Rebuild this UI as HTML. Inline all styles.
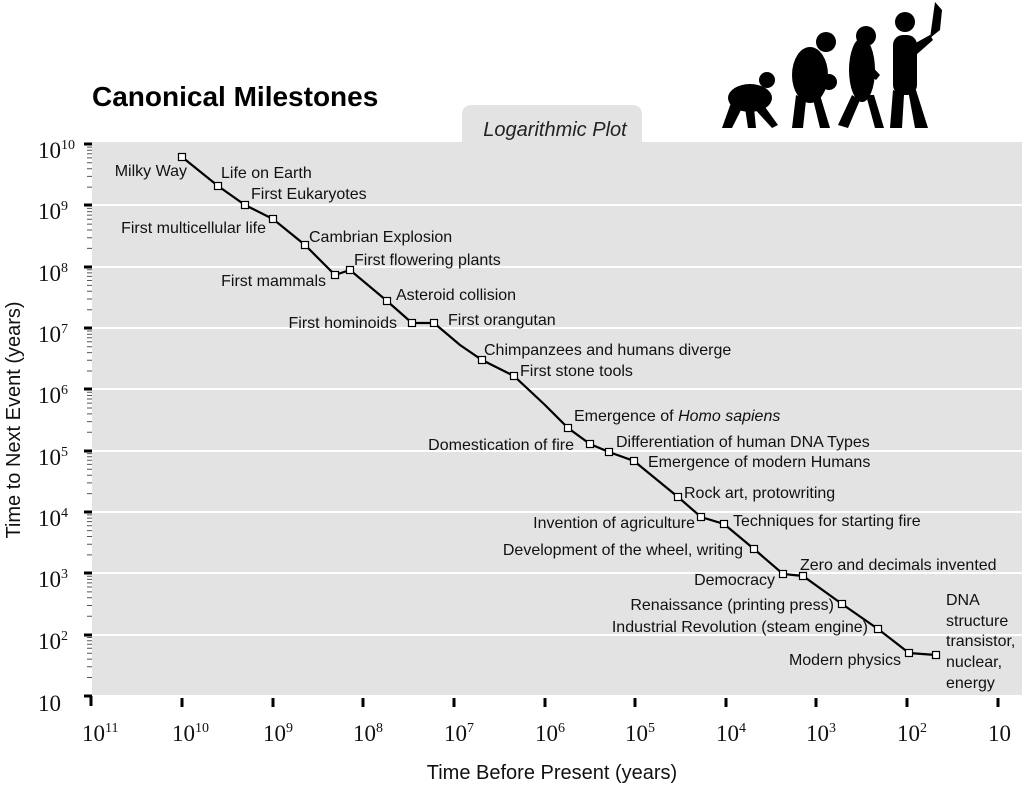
<!DOCTYPE html>
<html><head><meta charset="utf-8"><style>
body{margin:0;background:#fff;}
svg{display:block;font-family:"Liberation Sans",sans-serif;}
.l{font-size:16px;fill:#111;}
.r{text-anchor:end;}
.t{font-family:"Liberation Serif",serif;font-size:23px;fill:#111;}
.s{font-family:"Liberation Serif",serif;font-size:14px;fill:#111;}
</style></head><body>
<svg width="1024" height="787" viewBox="0 0 1024 787">
<rect x="92" y="142" width="930" height="553" fill="#e3e3e3"/>
<path d="M462,142 V115 Q462,105 472,105 H632 Q642,105 642,115 V142Z" fill="#e3e3e3"/>
<text x="555" y="136" text-anchor="middle" font-style="italic" font-size="20" fill="#222">Logarithmic Plot</text>
<text x="92" y="106" font-size="28" font-weight="bold" fill="#000">Canonical Milestones</text>
<g stroke="#fff" stroke-width="2">
<line x1="92" x2="1022" y1="205" y2="205"/><line x1="92" x2="1022" y1="267" y2="267"/>
<line x1="92" x2="1022" y1="328" y2="328"/><line x1="92" x2="1022" y1="389" y2="389"/>
<line x1="92" x2="1022" y1="451" y2="451"/><line x1="92" x2="1022" y1="512" y2="512"/>
<line x1="92" x2="1022" y1="573" y2="573"/><line x1="92" x2="1022" y1="635" y2="635"/>
</g>
<g stroke="#000" stroke-width="3">
<line x1="84" x2="92" y1="144" y2="144"/><line x1="84" x2="92" y1="205" y2="205"/><line x1="84" x2="92" y1="267" y2="267"/><line x1="84" x2="92" y1="328" y2="328"/><line x1="84" x2="92" y1="389" y2="389"/><line x1="84" x2="92" y1="451" y2="451"/><line x1="84" x2="92" y1="512" y2="512"/><line x1="84" x2="92" y1="573" y2="573"/><line x1="84" x2="92" y1="635" y2="635"/><line x1="84" x2="92" y1="696" y2="696"/>
<line x1="91" x2="91" y1="696" y2="706"/><line x1="182" x2="182" y1="698" y2="707"/><line x1="273" x2="273" y1="698" y2="707"/><line x1="363" x2="363" y1="698" y2="707"/><line x1="454" x2="454" y1="698" y2="707"/><line x1="545" x2="545" y1="698" y2="707"/><line x1="635" x2="635" y1="698" y2="707"/><line x1="726" x2="726" y1="698" y2="707"/><line x1="816" x2="816" y1="698" y2="707"/><line x1="907" x2="907" y1="698" y2="707"/><line x1="998" x2="998" y1="698" y2="707"/>
</g>
<path stroke="#555" stroke-width="1" fill="none" d="
M87,677.5H92M87,666.8H92M87,659.1H92M87,653.2H92M87,648.3H92M87,644.2H92M87,640.7H92M87,637.5H92
M87,616.2H92M87,605.5H92M87,597.8H92M87,591.9H92M87,587.0H92M87,582.9H92M87,579.4H92M87,576.2H92
M87,554.9H92M87,544.2H92M87,536.5H92M87,530.6H92M87,525.7H92M87,521.6H92M87,518.1H92M87,514.9H92
M87,493.6H92M87,482.9H92M87,475.2H92M87,469.3H92M87,464.4H92M87,460.3H92M87,456.8H92M87,453.6H92
M87,432.3H92M87,421.6H92M87,413.9H92M87,408.0H92M87,403.1H92M87,399.0H92M87,395.5H92M87,392.3H92
M87,371.0H92M87,360.3H92M87,352.6H92M87,346.7H92M87,341.8H92M87,337.7H92M87,334.2H92M87,331.0H92
M87,309.7H92M87,299.0H92M87,291.3H92M87,285.4H92M87,280.5H92M87,276.4H92M87,272.9H92M87,269.7H92
M87,248.4H92M87,237.7H92M87,230.0H92M87,224.1H92M87,219.2H92M87,215.1H92M87,211.6H92M87,208.4H92
M87,187.1H92M87,176.4H92M87,168.7H92M87,162.8H92M87,157.9H92M87,153.8H92M87,150.3H92M87,147.1H92"/>
<g class="t">
<text x="38" y="158">10<tspan class="s" dy="-9">10</tspan></text>
<text x="38" y="219">10<tspan class="s" dy="-9">9</tspan></text>
<text x="38" y="281">10<tspan class="s" dy="-9">8</tspan></text>
<text x="38" y="342">10<tspan class="s" dy="-9">7</tspan></text>
<text x="38" y="403">10<tspan class="s" dy="-9">6</tspan></text>
<text x="38" y="465">10<tspan class="s" dy="-9">5</tspan></text>
<text x="38" y="526">10<tspan class="s" dy="-9">4</tspan></text>
<text x="38" y="587">10<tspan class="s" dy="-9">3</tspan></text>
<text x="38" y="649">10<tspan class="s" dy="-9">2</tspan></text>
<text x="38" y="711">10</text>
<text x="82" y="741">10<tspan class="s" dy="-9">11</tspan></text>
<text x="172" y="741">10<tspan class="s" dy="-9">10</tspan></text>
<text x="263" y="741">10<tspan class="s" dy="-9">9</tspan></text>
<text x="353" y="741">10<tspan class="s" dy="-9">8</tspan></text>
<text x="444" y="741">10<tspan class="s" dy="-9">7</tspan></text>
<text x="535" y="741">10<tspan class="s" dy="-9">6</tspan></text>
<text x="625" y="741">10<tspan class="s" dy="-9">5</tspan></text>
<text x="716" y="741">10<tspan class="s" dy="-9">4</tspan></text>
<text x="806" y="741">10<tspan class="s" dy="-9">3</tspan></text>
<text x="897" y="741">10<tspan class="s" dy="-9">2</tspan></text>
<text x="988" y="741">10</text>
</g>
<text x="552" y="779" text-anchor="middle" font-size="20" fill="#111">Time Before Present (years)</text>
<text transform="translate(20,420) rotate(-90)" text-anchor="middle" font-size="20" fill="#111">Time to Next Event (years)</text>
<polyline fill="none" stroke="#000" stroke-width="2.2" points="182,157 218,186 245,205 273,219 305,245 335,275 350,270 387,301 412,323 434,323 460,345 482,360 514,376 545,405 568,428 590,444 609,452 634,461 678,497 701,517 724,524 754,549 783,574 803,576 842,604 878,629 909,653 936,655"/>
<g fill="#fff" stroke="#000" stroke-width="1.2">
<rect x="178.5" y="153.5" width="7" height="7"/><rect x="214.5" y="182.5" width="7" height="7"/><rect x="241.5" y="201.5" width="7" height="7"/><rect x="269.5" y="215.5" width="7" height="7"/><rect x="301.5" y="241.5" width="7" height="7"/><rect x="331.5" y="271.5" width="7" height="7"/><rect x="346.5" y="266.5" width="7" height="7"/><rect x="383.5" y="297.5" width="7" height="7"/><rect x="408.5" y="319.5" width="7" height="7"/><rect x="430.5" y="319.5" width="7" height="7"/><rect x="478.5" y="356.5" width="7" height="7"/><rect x="510.5" y="372.5" width="7" height="7"/><rect x="564.5" y="424.5" width="7" height="7"/><rect x="586.5" y="440.5" width="7" height="7"/><rect x="605.5" y="448.5" width="7" height="7"/><rect x="630.5" y="457.5" width="7" height="7"/><rect x="674.5" y="493.5" width="7" height="7"/><rect x="697.5" y="513.5" width="7" height="7"/><rect x="720.5" y="520.5" width="7" height="7"/><rect x="750.5" y="545.5" width="7" height="7"/><rect x="779.5" y="570.5" width="7" height="7"/><rect x="799.5" y="572.5" width="7" height="7"/><rect x="838.5" y="600.5" width="7" height="7"/><rect x="874.5" y="625.5" width="7" height="7"/><rect x="905.5" y="649.5" width="7" height="7"/><rect x="932.5" y="651.5" width="7" height="7"/>
</g>
<g class="l">
<text class="r" x="187" y="176">Milky Way</text>
<text x="221" y="178">Life on Earth</text>
<text x="251" y="199">First Eukaryotes</text>
<text class="r" x="266" y="233">First multicellular life</text>
<text x="309" y="242">Cambrian Explosion</text>
<text class="r" x="326" y="286">First mammals</text>
<text x="354" y="265">First flowering plants</text>
<text x="396" y="300">Asteroid collision</text>
<text class="r" x="397" y="328">First hominoids</text>
<text x="448" y="325">First orangutan</text>
<text x="484" y="355">Chimpanzees and humans diverge</text>
<text x="520" y="376">First stone tools</text>
<text x="574" y="421">Emergence of <tspan font-style="italic">Homo sapiens</tspan></text>
<text class="r" x="574" y="450">Domestication of fire</text>
<text x="616" y="447">Differentiation of human DNA Types</text>
<text x="648" y="467">Emergence of modern Humans</text>
<text x="684" y="498">Rock art, protowriting</text>
<text class="r" x="695" y="528">Invention of agriculture</text>
<text x="733" y="526">Techniques for starting fire</text>
<text class="r" x="743" y="555">Development of the wheel, writing</text>
<text x="800" y="570">Zero and decimals invented</text>
<text class="r" x="775" y="585">Democracy</text>
<text class="r" x="834" y="610">Renaissance (printing press)</text>
<text class="r" x="868" y="632">Industrial Revolution (steam engine)</text>
<text class="r" x="901" y="665">Modern physics</text>
<text x="946" y="605">DNA</text>
<text x="946" y="626">structure</text>
<text x="946" y="646">transistor,</text>
<text x="946" y="667">nuclear,</text>
<text x="946" y="688">energy</text>
</g>
<g fill="#000">
<ellipse cx="750" cy="98" rx="22" ry="14"/><circle cx="767" cy="80" r="8"/><path d="M732,100 L722,128 L732,128 L742,108Z M760,100 L778,125 L772,128 L752,106Z M745,108 L748,128 L756,128 L754,108Z"/>
<ellipse cx="810" cy="75" rx="18" ry="28"/><circle cx="826" cy="42" r="10"/><circle cx="829" cy="82" r="8"/><path d="M796,95 L792,128 L803,128 L806,100Z M812,95 L820,128 L830,128 L820,95Z"/>
<ellipse cx="862" cy="70" rx="13" ry="32"/><circle cx="866" cy="36" r="10"/><path d="M852,95 L838,125 L848,128 L860,100Z M866,95 L875,128 L884,128 L874,95Z M868,62 L880,75 L876,80 L864,70Z"/>
<rect x="893" y="35" width="24" height="60" rx="10"/><circle cx="905" cy="22" r="10"/><path d="M893,90 L890,128 L902,128 L904,95Z M908,90 L915,128 L928,128 L916,90Z M912,45 L930,35 L933,40 L916,55Z"/><path d="M930,38 L935,2 L942,10 L940,30Z"/>
</g>
</svg>
</body></html>
